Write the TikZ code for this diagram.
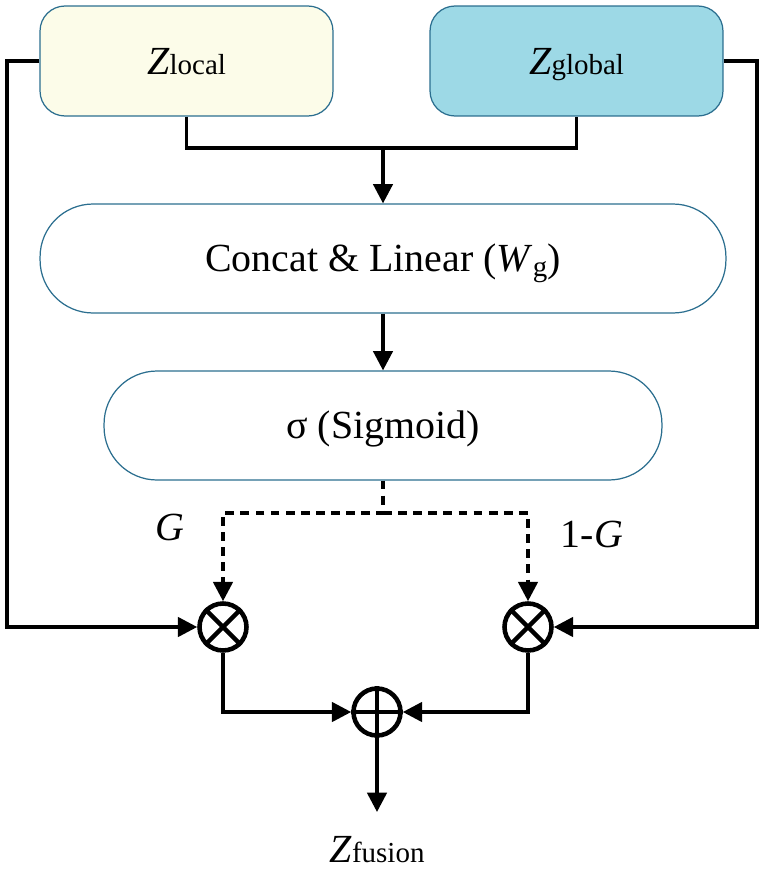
\documentclass[tikz,border=0pt]{standalone}
\usepackage{fontspec}
\setmainfont{Liberation Serif}
\usetikzlibrary{arrows.meta}
\definecolor{bordc}{HTML}{2B6E8F}
\definecolor{ylw}{HTML}{FCFCE9}
\definecolor{blu}{HTML}{9DD9E6}
\newcommand{\mainsize}{\fontsize{22.7}{27}\selectfont}
\newcommand{\subtx}[1]{{\fontsize{16.5}{18}\selectfont #1}}
\begin{document}
\begin{tikzpicture}[x=0.02cm,y=-0.02cm,
  txt/.style={font=\mainsize, inner sep=0pt, text height=20pt, text depth=4.8pt},
  box/.style={txt, draw=bordc, line width=0.7pt, rounded corners=0.5cm,
    minimum width=5.86cm, minimum height=2.2cm},
  pill/.style={txt, draw=bordc, line width=0.7pt, rounded corners=1.06cm,
    minimum height=2.18cm},
  plain/.style={line width=2pt},
  conn/.style={line width=2pt, -{Triangle[length=11pt,width=11pt]}},
  dconn/.style={line width=2pt, dash pattern=on 5pt off 3.6pt,
    -{Triangle[length=11pt,width=11pt]}},
  op/.style={circle, draw, line width=2.6pt, minimum size=0.94cm, inner sep=0pt},
  lbl/.style={txt}]
\useasboundingbox (0,0) rectangle (765,872);

% top boxes
\node[box, fill=ylw] (zl) at (186.5,61) {\textit{Z}\subtx{local}};
\node[box, fill=blu] (zg) at (576.5,61) {\textit{Z}\subtx{global}};

% process boxes
\node[pill, minimum width=13.72cm] (cat) at (383,258.5)
  {Concat \& Linear (\textit{W}\raisebox{-0.12em}{\subtx{g}})};
\node[pill, minimum width=11.16cm] (sig) at (383,425.5) {σ (Sigmoid)};

% operators
\node[op] (m1) at (223,627) {};
\node[op] (m2) at (528,627) {};
\node[op] (pl) at (377,712) {};
\draw[line width=2.6pt] (m1.north west) -- (m1.south east) (m1.north east) -- (m1.south west);
\draw[line width=2.6pt] (m2.north west) -- (m2.south east) (m2.north east) -- (m2.south west);
\draw[line width=2.6pt] (pl.north) -- (pl.south) (pl.west) -- (pl.east);

% labels
\node[lbl] (g1) at (170,527.5) {\textit{G}};
\node[lbl] (g2) at (592,534) {1-\textit{G}};
\node[lbl] (zf) at (377,849.5) {\textit{Z}\subtx{fusion}};

% helper coordinates
\coordinate (lc) at (7,61);
\coordinate (rc) at (757,61);
\coordinate (jn) at (383,148);
\coordinate (dj) at (383,513);
\coordinate (fe) at (377,812);

% connectors
\draw[plain] (zl.south) |- (jn) -| (zg.south);
\draw[conn] (jn) -- (cat.north);
\draw[conn] (cat.south) -- (sig.north);
\draw[dconn] (sig.south) -- (dj) -| (m1.north);
\draw[dconn] (dj) -| (m2.north);
\draw[conn] (zl.west) -- (lc) |- (m1.west);
\draw[conn] (zg.east) -- (rc) |- (m2.east);
\draw[conn] (m1.south) |- (pl.west);
\draw[conn] (m2.south) |- (pl.east);
\draw[conn] (pl.south) -- (fe);
\end{tikzpicture}
\end{document}
